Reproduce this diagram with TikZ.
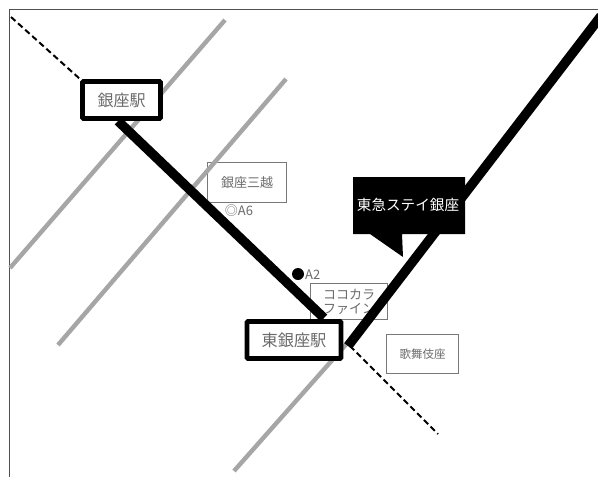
\documentclass[tikz,border=0pt]{standalone}
\usepackage{fontspec}
\setmainfont{Noto Sans CJK JP}
\definecolor{txt}{gray}{0.42}
\tikzset{
 greyline/.style={draw={rgb,255:red,166;green,166;blue,166},line width=4.4pt},
 road/.style={draw=black,line width=9.5pt},
 dashline/.style={draw=black,line width=2pt,dash pattern=on 6pt off 3.5pt},
 labelbox/.style={draw={rgb,255:red,120;green,120;blue,120},line width=1pt,fill=white,text=txt,align=center,inner sep=0pt,anchor=north west},
 station/.style={draw=black,line width=4.6pt,fill=white,text=txt,rounded corners=.8pt,inner sep=0pt,anchor=center},
 plain/.style={text=txt,font=\fontsize{13}{14}\selectfont,inner sep=0pt}
}
\begin{document}
\begin{tikzpicture}[x=1pt,y=-1pt]
\useasboundingbox (0,0) rectangle (598,477);
\fill[white] (0,0) rectangle (598,477);
\draw[draw={rgb,255:red,80;green,80;blue,80},line width=1.6pt] (9.5,477) -- (9.5,9.5) -- (598,9.5);
% coordinates
\coordinate (g1a) at (10,268); \coordinate (g1b) at (225,20);
\coordinate (g2a) at (58,345); \coordinate (g2b) at (286,79);
\coordinate (g3a) at (234,471); \coordinate (g3b) at (350,340);
\coordinate (d1a) at (11,17); \coordinate (d2b) at (438,434);
\coordinate (r1a) at (118,121); \coordinate (r1b) at (324,318);
\coordinate (r2a) at (348,346); \coordinate (r2b) at (601,16);
\coordinate (d2a) at (350,346);
% boxes under lines
\node[labelbox,minimum width=79pt,minimum height=40pt,font=\fontsize{13}{15}\selectfont] (mitsu) at (207,162) {銀座三越};
\node[labelbox,minimum width=77pt,minimum height=36pt,font=\fontsize{13}{14}\selectfont] (coco) at (310,283) {ココカラ\\ファイン};
\node[labelbox,minimum width=72pt,minimum height=39pt,font=\fontsize{11.5}{13}\selectfont] (kabuki) at (386,334) {歌舞伎座};
\draw[greyline] (g1a) -- (g1b);
\draw[greyline] (g2a) -- (g2b);
\draw[greyline] (g3a) -- (g3b);
\draw[road] (r1a) -- (r1b);
\draw[road] (r2a) -- (r2b);
\node[station,minimum width=78pt,minimum height=37pt,font=\fontsize{16}{18}\selectfont] (ginza) at (121.5,100) {銀座駅};
\coordinate (d1b) at (ginza.north west);
\draw[dashline] (d1a) -- (d1b);
\draw[dashline] (d2a) -- (d2b);
\node[station,minimum width=94pt,minimum height=37pt,font=\fontsize{16.2}{18}\selectfont] (higashi) at (294,340) {東銀座駅};
\fill[black] (353,177) -- (465,177) -- (465,234) -- (402,234) -- (403,257) -- (370,234) -- (353,234) -- cycle;
\node[text=white,inner sep=0pt,font=\fontsize{14.6}{16}\selectfont] (stay) at (408,205) {東急ステイ銀座};
\node[plain] (a6) at (239,211) {◎A6};
\fill[black] (298,274) circle (6pt);
\node[plain,anchor=west] (a2) at (305,275) {A2};
\end{tikzpicture}
\end{document}
